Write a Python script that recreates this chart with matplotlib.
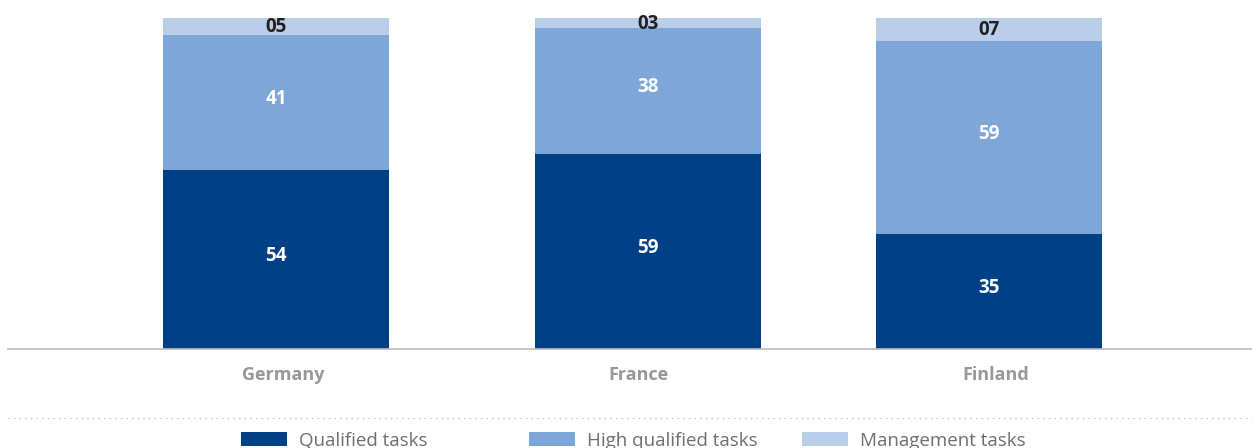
import matplotlib
matplotlib.use("Agg")
import matplotlib.pyplot as plt
from matplotlib.patches import Rectangle
from matplotlib.lines import Line2D
import numpy as np

# Share of task types by country
countries = ["Germany", "France", "Finland"]
series_names = ["Qualified tasks", "High qualified tasks", "Management tasks"]
qualified = [54, 59, 35]
high_qualified = [41, 38, 59]
management = [5, 3, 7]

colors = ["#004087", "#7ea7d8", "#bacde9"]
label_colors = ["white", "white", "#231f20"]
label_lift = [2.5, 2.5, -0.5]  # points

W, H = 1252, 448
DPI = 100
fig = plt.figure(figsize=(W / DPI, H / DPI), dpi=DPI)
plt.rcParams["font.family"] = ["Open Sans", "DejaVu Sans"]


def fx(px):
    return px / W


def fy(py):
    return 1 - py / H


# plot area: baseline at y=349 px, 100% level at y=18 px
ax = fig.add_axes([fx(8), fy(349), fx(1252 - 8), (349 - 18) / H])

# bar positions (uneven spacing between groups) and category label positions
xpos = np.array([0.0, 1.0, 1.9167])
label_pos = np.array([0.019, 0.973, 1.935])
bar_w = 0.6075

data = np.array([qualified, high_qualified, management], dtype=float)
totals = data.sum(axis=0)
shares = data / totals * 100

bottom = np.zeros(len(countries))
for i, name in enumerate(series_names):
    ax.bar(xpos, shares[i], bar_w, bottom=bottom, color=colors[i],
           label=name, linewidth=0, zorder=2)
    for j, x in enumerate(xpos):
        ax.annotate(f"{int(data[i, j]):02d}",
                    xy=(x, bottom[j] + shares[i, j] / 2),
                    xytext=(0, label_lift[i]), textcoords="offset points",
                    ha="center", va="center", color=label_colors[i],
                    fontsize=13.5, fontweight="bold", zorder=3)
    bottom += shares[i]

ax.set_xlim(-0.7204, 2.6237)
ax.set_ylim(0, 100)
for s in ["top", "right", "left"]:
    ax.spines[s].set_visible(False)
ax.spines["bottom"].set_color("#bcbcbc")
ax.spines["bottom"].set_linewidth(1.2)
ax.set_yticks([])
ax.set_xticks(label_pos)
ax.set_xticklabels(countries, fontsize=13, fontweight="bold", color="#97989b")
ax.tick_params(axis="x", length=0, pad=12.5)

# dotted separator above the legend
fig.add_artist(Line2D([fx(8), 1], [fy(418), fy(418)], transform=fig.transFigure,
                      linestyle=(0, (1, 3.5)), color="#b5b5b5", linewidth=0.9))

# legend row
patch_left = [241, 529, 802]
for i, name in enumerate(series_names):
    fig.add_artist(Rectangle((fx(patch_left[i]), fy(446)), fx(46), 14 / H,
                             transform=fig.transFigure, color=colors[i],
                             linewidth=0))
    fig.text(fx(patch_left[i] + 58), fy(446), name, ha="left", va="baseline",
             fontsize=13.5, color="#6d6e71")

fig.savefig("out.png", dpi=DPI)
